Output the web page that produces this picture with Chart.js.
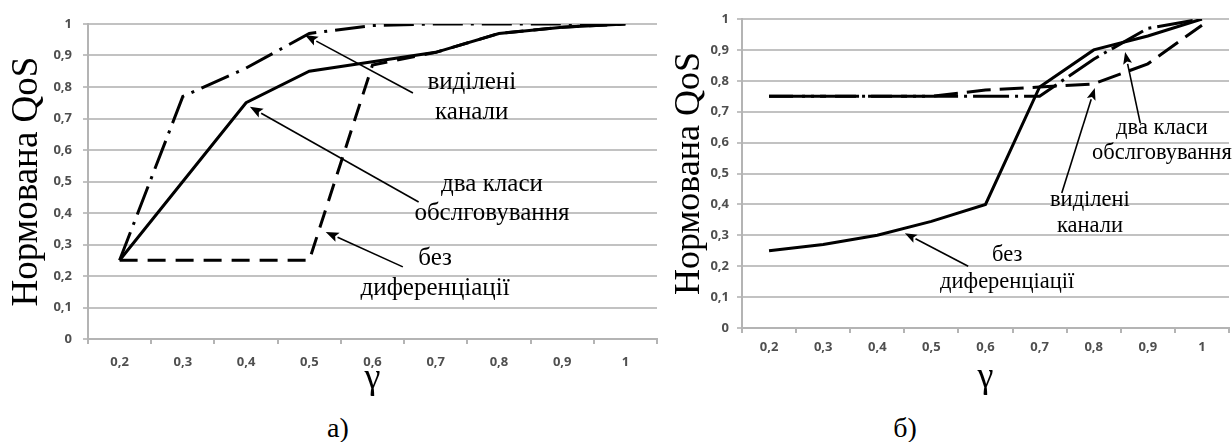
<!DOCTYPE html>
<html><head><meta charset="utf-8">
<script src="https://cdn.jsdelivr.net/npm/chart.js@4/dist/chart.umd.min.js"></script>
<style>
html,body{margin:0;padding:0;background:#fff;width:1232px;height:442px;overflow:hidden;position:relative;}
#ca{position:absolute;left:0;top:0;}
#cb{position:absolute;left:660px;top:0;}
.cap{position:absolute;font-family:'Liberation Serif',serif;font-size:28px;line-height:28px;top:414px;transform:translateX(-50%);white-space:nowrap;color:#000;}
</style></head><body>
<canvas id="ca" width="665" height="400"></canvas>
<canvas id="cb" width="572" height="400"></canvas>
<div class="cap" style="left:338px">а)</div>
<div class="cap" style="left:905px">б)</div>
<script>
// ---- data ----
const categories = ['0,2','0,3','0,4','0,5','0,6','0,7','0,8','0,9','1'];
const yTickLabels = ['0','0,1','0,2','0,3','0,4','0,5','0,6','0,7','0,8','0,9','1'];
const yTitle = 'Нормована QoS';
const xTitle = 'γ';

// chart а)
const a_twoClasses = [0.25, 0.50, 0.75, 0.85, 0.88, 0.91, 0.97, 0.99, 1.00];   // solid
const a_noDiff     = [0.25, 0.25, 0.25, 0.25, 0.87, 0.91, 0.97, 0.99, 1.00];   // dashed
const a_dedicated  = [0.25, 0.77, 0.86, 0.97, 0.995, 1.00, 1.00, 1.00, 1.00];  // dash-dot

// chart б)
const b_noDiff     = [0.25, 0.27, 0.30, 0.345, 0.40, 0.78, 0.90, 0.945, 1.00]; // solid
const b_dedicated  = [0.75, 0.75, 0.75, 0.75, 0.77, 0.78, 0.79, 0.855, 0.98];  // dashed
const b_twoClasses = [0.75, 0.75, 0.75, 0.75, 0.75, 0.75, 0.87, 0.97, 1.00];   // dash-dot

// annotation texts
const lblDedicated = ['виділені', 'канали'];
const lblTwo = ['два класи', 'обслговування'];
const lblNo = ['без', 'диференціації'];

const SERIF = "'Liberation Serif', serif";

// ---- annotation plugin (positions in data units: category index, value) ----
const notesPlugin = {
  id: 'notes',
  afterDatasetsDraw(chart, args, opts) {
    const {ctx, scales:{x, y}} = chart;
    ctx.save();
    ctx.fillStyle = '#000'; ctx.strokeStyle = '#000';
    (opts.arrows || []).forEach(a => {
      const x1 = x.getPixelForValue(a.from[0]), y1 = y.getPixelForValue(a.from[1]);
      const x2 = x.getPixelForValue(a.to[0]), y2 = y.getPixelForValue(a.to[1]);
      const ang = Math.atan2(y2 - y1, x2 - x1);
      const hl = opts.headLen, hw = opts.headWidth;
      const bx = x2 - hl * Math.cos(ang), by = y2 - hl * Math.sin(ang);
      ctx.lineWidth = opts.lineWidth;
      ctx.beginPath(); ctx.moveTo(x1, y1); ctx.lineTo(bx, by); ctx.stroke();
      ctx.beginPath(); ctx.moveTo(x2, y2);
      ctx.lineTo(bx + hw / 2 * Math.sin(ang), by - hw / 2 * Math.cos(ang));
      ctx.lineTo(x2 - hl * 0.8 * Math.cos(ang), y2 - hl * 0.8 * Math.sin(ang));
      ctx.lineTo(bx - hw / 2 * Math.sin(ang), by + hw / 2 * Math.cos(ang));
      ctx.closePath(); ctx.fill();
    });
    ctx.font = opts.font; ctx.textAlign = 'center'; ctx.textBaseline = 'middle';
    (opts.labels || []).forEach(l => ctx.fillText(l.text, x.getPixelForValue(l.x), y.getPixelForValue(l.y)));
    ctx.restore();
  }
};

function ds(data, dash, width) {
  return { data, borderColor: '#000', backgroundColor: '#000', borderWidth: width,
           borderDash: dash, pointRadius: 0, tension: 0, fill: false };
}

function makeOptions(cfg) {
  return {
    responsive: false, animation: false, devicePixelRatio: 1,
    layout: { padding: cfg.padding },
    plugins: { legend: { display: false }, tooltip: { enabled: false }, notes: cfg.notes },
    scales: {
      x: {
        type: 'category', offset: true,
        grid: { offset: true, drawOnChartArea: false, drawTicks: true, tickLength: 5, color: '#b4b4b4', lineWidth: 2 },
        border: { display: true, color: '#b4b4b4', width: 2 },
        ticks: { color: '#4f4f4f', font: { family: 'Open Sans', size: 13, weight: 'bold' }, padding: cfg.xTickPad, maxRotation: 0, autoSkip: false },
        title: { display: true, text: xTitle, color: '#000', font: { family: SERIF, size: 36, lineHeight: 1.2 }, padding: { top: 0, bottom: cfg.xTitlePad } },
        afterFit: s => { s.height = cfg.xHeight; }
      },
      y: {
        min: 0, max: 1,
        ticks: { stepSize: 0.1, color: '#4f4f4f', font: { family: 'Open Sans', size: 13, weight: 'bold' }, padding: cfg.yTickPad,
                 callback: (v, i) => yTickLabels[i] },
        grid: { color: '#c2c2c2', lineWidth: 2, tickLength: 5, drawTicks: true },
        border: { display: true, color: '#b4b4b4', width: 2 },
        title: { display: true, text: yTitle, color: '#000', font: { family: SERIF, size: cfg.yTitleSize, lineHeight: 1.2 }, padding: { top: cfg.yTitlePad, bottom: 0 } },
        afterFit: s => { s.width = cfg.yWidth; }
      }
    }
  };
}

function draw() {
  new Chart(document.getElementById('ca'), {
    type: 'line',
    data: { labels: categories, datasets: [
      ds(a_twoClasses, [], 3),
      ds(a_noDiff, [18, 10], 3),
      ds(a_dedicated, [30, 8, 3, 8], 3)
    ]},
    options: makeOptions({
      padding: { left: 0, right: 8, top: 24, bottom: 0 },
      xHeight: 61, yWidth: 88, xTickPad: 10, yTickPad: 11, xTitlePad: 0, yTitlePad: 5, yTitleSize: 37,
      notes: {
        font: "25px " + SERIF, lineWidth: 1.6, headLen: 13, headWidth: 10,
        labels: [
          { text: lblDedicated[0], x: 5.57, y: 0.816 }, { text: lblDedicated[1], x: 5.57, y: 0.72 },
          { text: lblTwo[0], x: 5.89, y: 0.492 }, { text: lblTwo[1], x: 5.89, y: 0.40 },
          { text: lblNo[0], x: 4.99, y: 0.257 }, { text: lblNo[1], x: 4.99, y: 0.162 }
        ],
        arrows: [
          { from: [4.64, 0.781], to: [2.93, 0.965] },
          { from: [4.73, 0.435], to: [2.06, 0.737] },
          { from: [4.48, 0.229], to: [3.26, 0.34] }
        ]
      }
    }),
    plugins: [notesPlugin]
  });

  new Chart(document.getElementById('cb'), {
    type: 'line',
    data: { labels: categories, datasets: [
      ds(b_noDiff, [], 3),
      ds(b_dedicated, [24, 9], 3),
      ds(b_twoClasses, [36, 6, 3, 6], 3)
    ]},
    options: makeOptions({
      padding: { left: 0, right: 3, top: 19, bottom: 0 },
      xHeight: 72, yWidth: 82, xTickPad: 6, yTickPad: 8, xTitlePad: 1, yTitlePad: 8, yTitleSize: 36,
      notes: {
        font: "22.5px " + SERIF, lineWidth: 1.6, headLen: 12, headWidth: 9,
        labels: [
          { text: lblTwo[0], x: 7.26, y: 0.647 }, { text: lblTwo[1], x: 7.26, y: 0.566 },
          { text: lblDedicated[0], x: 5.93, y: 0.414 }, { text: lblDedicated[1], x: 5.93, y: 0.33 },
          { text: lblNo[0], x: 4.4, y: 0.236 }, { text: lblNo[1], x: 4.4, y: 0.149 }
        ],
        arrows: [
          { from: [6.86, 0.663], to: [6.58, 0.893] },
          { from: [5.41, 0.437], to: [6.02, 0.777] },
          { from: [3.68, 0.2], to: [2.51, 0.307] }
        ]
      }
    }),
    plugins: [notesPlugin]
  });
}

Promise.all([
  document.fonts.load("25px 'Liberation Serif'", 'Нормована QoS γ'),
  document.fonts.load("bold 13px 'Open Sans'", '0,1')
]).catch(() => {}).then(draw, draw);
</script>
</body></html>
